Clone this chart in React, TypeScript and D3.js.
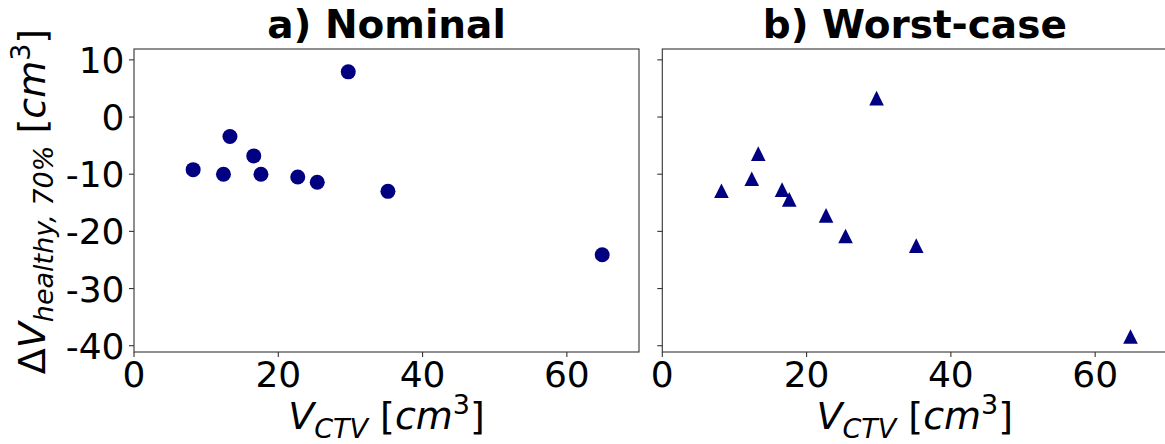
import * as d3 from "d3";
import React from 'react'

// shared x values (V_CTV, cm^3)
const ctvVolumes = [8.2, 12.4, 13.3, 16.6, 17.6, 22.7, 25.4, 29.7, 35.2, 64.9]
// delta V healthy 70% per scenario
const nominalDelta = [-9.2, -10.0, -3.4, -6.8, -10.0, -10.5, -11.4, 7.9, -13.0, -24.1]
const worstCaseDelta = [-12.9, -10.8, -6.4, -12.7, -14.4, -17.2, -20.8, 3.3, -22.5, -38.4]

const xTicks = [0, 20, 40, 60]
const yTicks = [10, 0, -10, -20, -30, -40]
const panelTitles = ["a) Nominal", "b) Worst-case"]

const W = 1165, H = 444
const font = "DejaVu Sans"
const navy = "#000080"
const fs = 36
const labelFs = 38
const subFs = 27

const panels = [
  { left: 134, right: 639, values: nominalDelta, marker: "circle" },
  { left: 662.3, right: 1167.3, values: worstCaseDelta, marker: "triangle" },
]
const top = 49, bottom = 352

const y = d3.scaleLinear([-41.1, 11.9], [bottom, top])

const Panel: React.FC<{ p: typeof panels[0], idx: number }> = ({ p, idx }) => {
  const x = d3.scaleLinear([0, 70], [p.left, p.right])
  const cx = (p.left + p.right) / 2
  return (
    <g>
      {p.values.map((v, i) => p.marker === "circle"
        ? <circle key={i} cx={x(ctvVolumes[i])} cy={y(v)} r={7.5} fill={navy} />
        : <path key={i} d="M0,-7.3L7.3,7.3L-7.3,7.3Z" transform={`translate(${x(ctvVolumes[i])},${y(v)})`} fill={navy} />
      )}
      <rect x={p.left} y={top} width={p.right - p.left} height={bottom - top} fill="none" stroke="#333" strokeWidth={1.1} />
      {xTicks.map(t => (
        <g key={"x" + t}>
          <line x1={x(t)} x2={x(t)} y1={bottom} y2={bottom + 5} stroke="#333" strokeWidth={1.1} />
          <text x={x(t)} y={387} textAnchor="middle" fontSize={fs} fontFamily={font}>{t}</text>
        </g>
      ))}
      {yTicks.map(t => (
        <g key={"y" + t}>
          <line x1={p.left - 5} x2={p.left} y1={y(t)} y2={y(t)} stroke="#333" strokeWidth={1.1} />
          {idx === 0 && <text x={p.left - 9.5} y={y(t)} dy="0.36em" textAnchor="end" fontSize={fs} fontFamily={font}>{t}</text>}
        </g>
      ))}
      <text x={cx} y={38} textAnchor="middle" fontSize={39} fontWeight="bold" fontFamily={font}>{panelTitles[idx]}</text>
      <text x={cx} y={429} textAnchor="middle" fontSize={labelFs} fontFamily={font}>
        <tspan fontStyle="italic">V</tspan>
        <tspan fontStyle="italic" fontSize={subFs} dy={9}>CTV</tspan>
        <tspan dy={-9}>{" ["}</tspan>
        <tspan fontStyle="italic">cm</tspan>
        <tspan fontSize={subFs} dy={-15}>3</tspan>
        <tspan dy={15}>]</tspan>
      </text>
    </g>
  )
}

const App: React.FC = () => {
  const cy = (top + bottom) / 2
  return (
    <svg width={W} height={H} style={{ position: "absolute", left: 0, top: 0, background: "#fff" }}>
      {panels.map((p, i) => <Panel key={i} p={p} idx={i} />)}
      <text transform={`translate(45,${cy + 1}) rotate(-90)`} textAnchor="middle" fontSize={labelFs} fontFamily={font}>
        <tspan>Δ</tspan>
        <tspan fontStyle="italic">V</tspan>
        <tspan fontStyle="italic" fontSize={subFs} dy={8}>healthy, 70%</tspan>
        <tspan dy={-8}>{"  ["}</tspan>
        <tspan fontStyle="italic">cm</tspan>
        <tspan fontSize={subFs} dy={-15}>3</tspan>
        <tspan dy={15}>]</tspan>
      </text>
    </svg>
  )
}

export default App
